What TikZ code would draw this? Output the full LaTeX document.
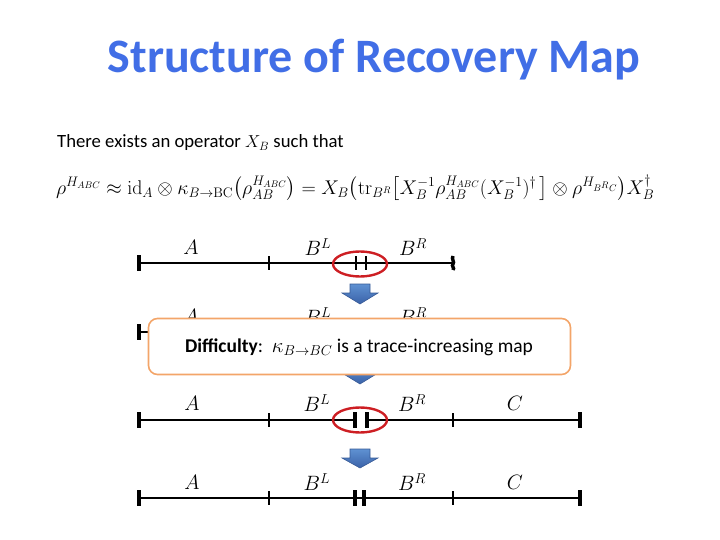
\documentclass[tikz,border=0pt]{standalone}
\usepackage{amsmath}
\usepackage{graphicx}
\usepackage[no-math]{fontspec}
\setmainfont{Carlito}
\usetikzlibrary{shapes.geometric}
\definecolor{titleblue}{RGB}{65,110,230}
\definecolor{arrowtop}{RGB}{95,145,210}
\definecolor{arrowbot}{RGB}{58,98,168}
\definecolor{arrowdark}{RGB}{55,90,150}
\definecolor{boxorange}{RGB}{243,165,105}
\definecolor{ovalred}{RGB}{205,30,35}
\tikzset{
  seg/.style={line width=2.6pt},
  endtick/.style={line width=3.4pt},
  midtick/.style={line width=2.2pt},
  lbl/.style={font=\fontsize{21}{21}\selectfont, inner sep=0pt},
  oval/.style={draw=ovalred, line width=2.4pt, ellipse, minimum width=54pt, minimum height=25pt, inner sep=0pt},
  downarrow/.style={draw=arrowdark, line width=0.6pt, top color=arrowtop, bottom color=arrowbot}
}
\begin{document}
\begin{tikzpicture}[x=1pt,y=-1pt]
\useasboundingbox (0,0) rectangle (720,540);
% title
\node[font=\fontsize{48}{48}\selectfont\bfseries, text=titleblue] (title) at (374,60) {Structure of Recovery Map};
% statement
\node[anchor=west, font=\fontsize{18.7}{21}\selectfont, inner sep=0pt] (stmt) at (57,143) {There exists an operator $X_B$ such that};
\node[anchor=west, font=\fontsize{19.5}{22}\selectfont, inner sep=0pt] (formula) at (56,188)
 {\resizebox{598pt}{!}{$\rho^{H_{ABC}} \approx \mathrm{id}_A \otimes \kappa_{B\to\mathrm{BC}}\bigl(\rho_{AB}^{H_{ABC}}\bigr) = X_B\bigl(\mathrm{tr}_{B^R}\bigl[X_B^{-1}\rho_{AB}^{H_{ABC}}(X_B^{-1})^{\dagger}\,\bigr]\otimes\rho^{H_{B^RC}}\bigr)X_B^{\dagger}$}};

% row 1
\coordinate (r1a) at (139,263); \coordinate (r1e) at (453,263);
\draw[seg] (r1a) -- (r1e);
\draw[endtick] (139,255) -- (139,271);
\draw[midtick] (269,256) -- (269,270);
\draw[midtick] (356,256) -- (356,270);
\draw[midtick] (366,256) -- (366,270);
\draw[endtick] (453,256) .. controls (451,259) and (455,262) .. (453,264) .. controls (451,266) and (455,268) .. (453,270);
\node[lbl] (r1A) at (191,247) {$A$};
\node[lbl] (r1BL) at (318,247) {$B^L$};
\node[lbl] (r1BR) at (413,247) {$B^R$};
\node[oval] (r1oval) at (360,264) {};

% arrow 1
\path[downarrow] (350,284) -- (370,284) -- (370,293) -- (378,293) -- (360,304) -- (342,293) -- (350,293) -- cycle;

% row 2 (mostly hidden)
\coordinate (r2a) at (139,332); \coordinate (r2e) at (453,332);
\draw[seg] (r2a) -- (r2e);
\draw[endtick] (139,324) -- (139,340);
\node[lbl] (r2A) at (191,316) {$A$};
\node[lbl] (r2BL) at (318,316) {$B^L$};
\node[lbl] (r2BR) at (413,316) {$B^R$};

% arrow 2 (partly hidden)
\path[downarrow] (350,365) -- (370,365) -- (370,373) -- (378,373) -- (360,384) -- (342,373) -- (350,373) -- cycle;

% difficulty box
\node[draw=boxorange, line width=1.6pt, rounded corners=9pt, fill=white, minimum width=422pt, minimum height=56pt, inner sep=0pt] (box) at (359.5,346.5) {};
\node[font=\fontsize{19.5}{22}\selectfont, inner sep=0pt] (boxtext) at (359,347) {\textbf{Difficulty}:\ \ $\kappa_{B\to BC}$ is a trace-increasing map};

% row 3
\coordinate (r3a) at (139,420); \coordinate (r3b) at (356,420);
\coordinate (r3c) at (366,420); \coordinate (r3e) at (580,420);
\draw[seg] (r3a) -- (r3b);
\draw[seg] (r3c) -- (r3e);
\draw[endtick] (139,412) -- (139,428);
\draw[midtick] (269,413) -- (269,427);
\draw[endtick] (355,412) -- (355,428);
\draw[endtick] (367,412) -- (367,428);
\draw[midtick] (453,413) -- (453,427);
\draw[endtick] (580,412) -- (580,428);
\node[lbl] (r3A) at (192,403) {$A$};
\node[lbl] (r3BL) at (317,403) {$B^L$};
\node[lbl] (r3BR) at (412,403) {$B^R$};
\node[lbl] (r3C) at (515,403) {$C$};
\node[oval] (r3oval) at (360,420) {};

% arrow 3
\path[downarrow] (350,449) -- (370,449) -- (370,458) -- (378,458) -- (360,468) -- (342,458) -- (350,458) -- cycle;

% row 4
\coordinate (r4a) at (139,498); \coordinate (r4e) at (580,498);
\draw[seg] (r4a) -- (r4e);
\draw[endtick] (139,490) -- (139,506);
\draw[midtick] (269,491) -- (269,505);
\draw[endtick] (355,490) -- (355,506);
\draw[endtick] (364,490) -- (364,506);
\draw[midtick] (453,491) -- (453,505);
\draw[endtick] (580,490) -- (580,506);
\node[lbl] (r4A) at (192,482) {$A$};
\node[lbl] (r4BL) at (317,482) {$B^L$};
\node[lbl] (r4BR) at (412,482) {$B^R$};
\node[lbl] (r4C) at (515,482) {$C$};
\end{tikzpicture}
\end{document}
